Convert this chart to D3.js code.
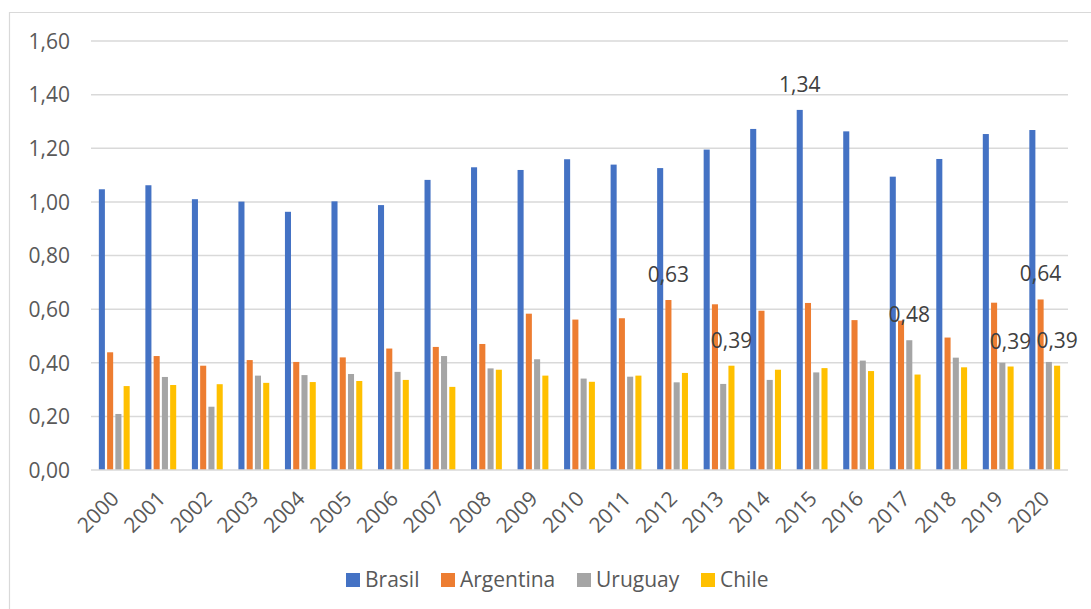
<!DOCTYPE html>
<html>
<head>
<meta charset="utf-8">
<script src="https://cdn.jsdelivr.net/npm/d3@7"></script>
<style>
  html, body { margin: 0; padding: 0; background: #fff; }
  svg { display: block; font-family: "Open Sans", "Noto Sans", sans-serif; }
</style>
</head>
<body>
<svg id="chart" width="1091" height="609"></svg>
<script>
const years = ["2000","2001","2002","2003","2004","2005","2006","2007","2008","2009","2010",
               "2011","2012","2013","2014","2015","2016","2017","2018","2019","2020"];
const seriesNames = ["Brasil", "Argentina", "Uruguay", "Chile"];
const brasil    = [1.047,1.062,1.010,1.001,0.963,1.002,0.988,1.082,1.129,1.119,1.159,
                   1.139,1.126,1.195,1.272,1.343,1.263,1.094,1.160,1.253,1.268];
const argentina = [0.439,0.425,0.389,0.410,0.403,0.420,0.453,0.459,0.470,0.583,0.561,
                   0.566,0.634,0.618,0.594,0.623,0.559,0.557,0.494,0.624,0.636];
const uruguay   = [0.209,0.347,0.236,0.352,0.354,0.358,0.366,0.425,0.379,0.413,0.341,
                   0.348,0.327,0.321,0.336,0.364,0.408,0.484,0.419,0.400,0.403];
const chile     = [0.313,0.317,0.320,0.325,0.328,0.332,0.336,0.310,0.374,0.352,0.329,
                   0.352,0.362,0.389,0.374,0.380,0.369,0.356,0.383,0.386,0.389];
const yTicks = [0, 0.2, 0.4, 0.6, 0.8, 1.0, 1.2, 1.4, 1.6];
const colors = ["#4472C4", "#ED7D31", "#A5A5A5", "#FFC000"];
// value labels shown on selected bars: [year, series index]
const labelled = [["2012",1],["2013",3],["2015",0],["2017",2],["2019",3],["2020",1],["2020",3]];

const values = [brasil, argentina, uruguay, chile];
const svg = d3.select("#chart");

const plot = { left: 91, right: 1068, top: 41, bottom: 470 };
const fontSize = 21;
const fmt = v => d3.format(".2f")(v).replace(".", ",");

// outer frame (top and left edges visible)
svg.append("path")
  .attr("d", "M9.5,609 L9.5,12.5 L1091,12.5")
  .attr("fill", "none").attr("stroke", "#d9d9d9").attr("stroke-width", 1.2);

const y = d3.scaleLinear().domain([0, 1.6]).range([plot.bottom, plot.top]);
const x0 = d3.scaleBand().domain(years).range([plot.left, plot.right])
  .paddingInner(0.29).paddingOuter(0.145);
const x1 = d3.scaleBand().domain(d3.range(4)).range([0, x0.bandwidth()]);

// gridlines
svg.append("g").selectAll("line").data(yTicks.filter(t => t > 0)).join("line")
  .attr("x1", plot.left).attr("x2", plot.right)
  .attr("y1", d => y(d)).attr("y2", d => y(d))
  .attr("stroke", "#d9d9d9").attr("stroke-width", 1.5);

// y axis labels
const yAxis = d3.axisLeft(y).tickValues(yTicks).tickFormat(fmt).tickSize(0).tickPadding(0);
const gy = svg.append("g").attr("transform", `translate(${plot.left - 21},0)`).call(yAxis);
gy.select(".domain").remove();
gy.selectAll("text").attr("fill", "#595959").attr("font-size", fontSize)
  .attr("font-family", "'Open Sans', 'Noto Sans', sans-serif").attr("dy", "0.35em");

// bars
const groups = svg.append("g").selectAll("g").data(years).join("g")
  .attr("transform", d => `translate(${x0(d)},0)`);
groups.selectAll("rect").data((d, i) => values.map((s, k) => ({ k, v: s[i] }))).join("rect")
  .attr("x", d => x1(d.k) + 1.1)
  .attr("width", x1.bandwidth() - 2.2)
  .attr("y", d => y(d.v))
  .attr("height", d => y(0) - y(d.v))
  .attr("fill", d => colors[d.k]);

// baseline
svg.append("line")
  .attr("x1", plot.left).attr("x2", plot.right)
  .attr("y1", y(0)).attr("y2", y(0))
  .attr("stroke", "#d9d9d9").attr("stroke-width", 1.5);

// x axis labels, rotated
const xAxis = d3.axisBottom(x0).tickSize(0).tickPadding(0);
const gx = svg.append("g").attr("transform", `translate(0,${plot.bottom})`).call(xAxis);
gx.select(".domain").remove();
gx.selectAll("text")
  .attr("fill", "#595959").attr("font-size", fontSize)
  .attr("font-family", "'Open Sans', 'Noto Sans', sans-serif")
  .attr("text-anchor", "end")
  .attr("dy", null).attr("y", 0)
  .attr("transform", "translate(6,30) rotate(-45)");

// data labels
svg.append("g").selectAll("text").data(labelled).join("text")
  .attr("x", d => x0(d[0]) + x1(d[1]) + x1.bandwidth() / 2)
  .attr("y", d => y(values[d[1]][years.indexOf(d[0])]) - 18)
  .attr("text-anchor", "middle")
  .attr("fill", "#404040").attr("font-size", fontSize)
  .text(d => fmt(values[d[1]][years.indexOf(d[0])]));

// legend
const legendX = [346, 441, 577, 701];
const legend = svg.append("g").selectAll("g").data(seriesNames).join("g")
  .attr("transform", (d, i) => `translate(${legendX[i]},573)`);
legend.append("rect").attr("width", 14).attr("height", 14).attr("fill", (d, i) => colors[i]);
legend.append("text").attr("x", 19).attr("y", 7).attr("dy", "0.35em")
  .attr("fill", "#595959").attr("font-size", fontSize).text(d => d);
</script>
</body>
</html>
